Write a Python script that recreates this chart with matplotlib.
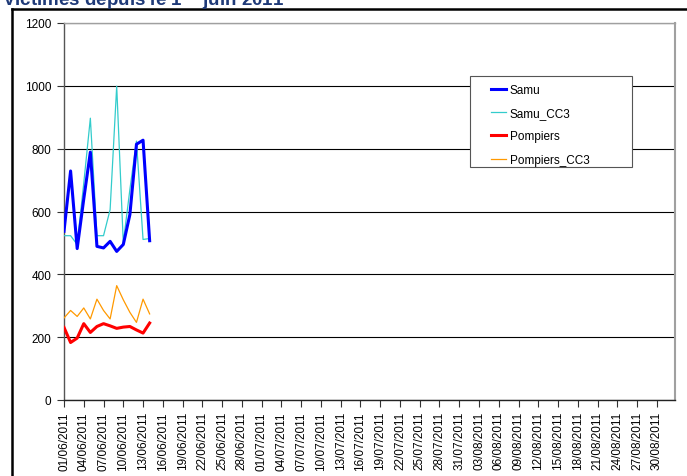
import pandas as pd
import matplotlib.pyplot as plt
from matplotlib.lines import Line2D
from matplotlib.patches import Rectangle

plt.rcParams['font.family'] = ['Liberation Sans', 'DejaVu Sans']

# data (daily values, 01/06 -> 14/06/2011)
days = ['01/06/2011', '02/06/2011', '03/06/2011', '04/06/2011', '05/06/2011',
        '06/06/2011', '07/06/2011', '08/06/2011', '09/06/2011', '10/06/2011',
        '11/06/2011', '12/06/2011', '13/06/2011', '14/06/2011']
samu = [537, 729, 482, 640, 789, 489, 484, 505, 473, 495, 590, 814, 827, 507]
samu_cc3 = [523, 523, 495, 690, 897, 523, 523, 606, 999, 500, 670, 824, 511, 514]
pompiers = [231, 183, 197, 243, 215, 234, 243, 236, 228, 232, 234, 223, 213, 245]
pompiers_cc3 = [261, 285, 266, 293, 258, 321, 285, 258, 364, 319, 279, 247, 321, 274]

tick_labels = ['01/06/2011', '04/06/2011', '07/06/2011', '10/06/2011', '13/06/2011',
               '16/06/2011', '19/06/2011', '22/06/2011', '25/06/2011', '28/06/2011',
               '01/07/2011', '04/07/2011', '07/07/2011', '10/07/2011', '13/07/2011',
               '16/07/2011', '19/07/2011', '22/07/2011', '25/07/2011', '28/07/2011',
               '31/07/2011', '03/08/2011', '06/08/2011', '09/08/2011', '12/08/2011',
               '15/08/2011', '18/08/2011', '21/08/2011', '24/08/2011', '27/08/2011',
               '30/08/2011']

x = pd.to_datetime(days, format='%d/%m/%Y')
xt = pd.to_datetime(tick_labels, format='%d/%m/%Y')

W, H = 687, 477
L, R, T, B = 64, 675, 24, 401   # plot area in pixels
fig = plt.figure(figsize=(W / 100, H / 100), dpi=100)
ax = fig.add_axes([L / W, 1 - B / H, (R - L) / W, (B - T) / H])

ax.plot(x, samu, color='#0000FF', lw=2.2, label='Samu', zorder=4)
ax.plot(x, samu_cc3, color='#33CCCC', lw=0.9, label='Samu_CC3', zorder=3)
ax.plot(x, pompiers, color='#FF0000', lw=2.2, label='Pompiers', zorder=4)
ax.plot(x, pompiers_cc3, color='#FF9900', lw=0.9, label='Pompiers_CC3', zorder=3)

ax.set_ylim(0, 1200)
ax.set_yticks(range(0, 1201, 200))
ax.set_xlim(pd.Timestamp('2011-06-01'), pd.Timestamp('2011-09-01') + pd.Timedelta(hours=18))
ax.set_xticks(xt)
ax.set_xticklabels(tick_labels, rotation=90)
ax.grid(axis='y', color='black', lw=0.8)
ax.set_axisbelow(True)

ax.tick_params(axis='both', labelsize=8.5, length=5, width=0.8, color='#333333', direction='out', pad=3)
ax.tick_params(axis='y', pad=4)
ax.spines['left'].set_color('#555555')
ax.spines['bottom'].set_color('#222222')
ax.spines['top'].set_color('#A0A0A0')
ax.spines['right'].set_color('#A0A0A0')
ax.spines['right'].set_linewidth(1.5)
for s in ['left', 'bottom', 'top']:
    ax.spines[s].set_linewidth(1.0)


def px(xp, yp):
    return (xp - L) / (R - L), (B - yp) / (B - T)


# legend box: 470..632 px wide, 77..168 px tall
bx0, by0 = px(470, 168)
bx1, by1 = px(632, 77)
ax.add_patch(Rectangle((bx0, by0), bx1 - bx0, by1 - by0, transform=ax.transAxes,
                       facecolor='white', edgecolor='#555555', lw=0.8, zorder=5))
leg = ax.legend(loc='upper left', bbox_to_anchor=px(491, 85), fontsize=8.5,
                frameon=False, handlelength=1.3, labelspacing=0.95,
                borderpad=0, handletextpad=0.3, borderaxespad=0)
leg.set_zorder(6)

# outer chart border and the cut-off title
fig.add_artist(Line2D([12 / W, 12 / W], [0, 1 - 10 / H], color='black', lw=1.8))
fig.add_artist(Line2D([12 / W, 1], [1 - 10 / H, 1 - 10 / H], color='black', lw=1.8))
fig.text(2 / W, 1 - 6 / H, r'Victimes depuis le 1$^{\mathbf{er}}$ juin 2011',
         fontsize=13.5, fontweight='bold', color='#1F3A78', va='baseline', ha='left')

fig.savefig('out.png', dpi=100)
